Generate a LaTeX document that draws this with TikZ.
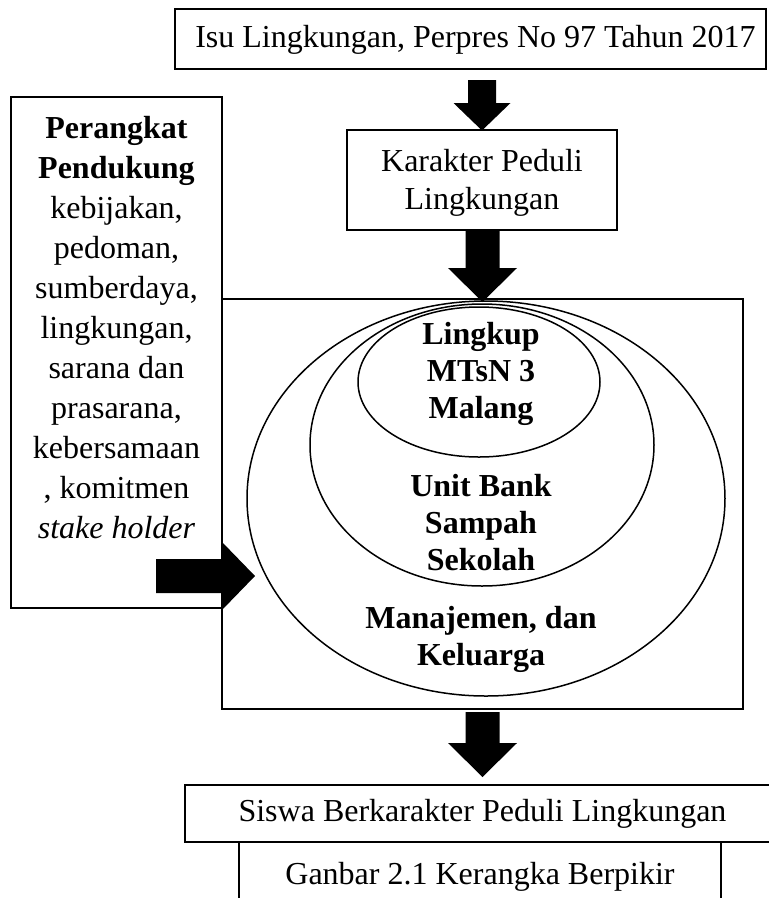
\documentclass[tikz,border=0pt]{standalone}
\usepackage{fontspec}
\setmainfont{Liberation Serif}
\usetikzlibrary{shapes.geometric}
\begin{document}
\begin{tikzpicture}[x=1pt,y=-1pt,
  txt/.style={font=\fontsize{32}{40}\selectfont, align=center, inner sep=0pt},
  btxt/.style={font=\fontsize{32}{37}\selectfont\bfseries, align=center, inner sep=0pt},
  box/.style={draw, line width=1.3pt, inner sep=0pt, font=\fontsize{32}{38}\selectfont, align=center},
  ring/.style={draw, ellipse, line width=1.5pt, inner sep=0pt},
  blk/.style={fill=black}]
\useasboundingbox (0,0) rectangle (769,898);
% boxes
\node[box, minimum width=591, minimum height=60] (top) at (470.5,39) {};
\node[txt] (toptext) at (475.5,40) {Isu Lingkungan, Perpres No 97 Tahun 2017};
\node[box, minimum width=270, minimum height=100] (kar) at (482,180) {};
\node[box, draw=none] (kartext) at (482,183) {Karakter Peduli\\Lingkungan};
\node[box, minimum width=211, minimum height=511] (per) at (116.5,352.5) {};
\node[txt, anchor=north] (pertext) at (116.5,116) {\textbf{Perangkat}\\\textbf{Pendukung}\\kebijakan,\\pedoman,\\sumberdaya,\\lingkungan,\\sarana dan\\prasarana,\\kebersamaan\\, komitmen\\\textit{stake holder}};
\node[box, minimum width=521, minimum height=410] (main) at (482.5,504) {};
% ellipses
\node[ring, minimum width=478, minimum height=395] (outer) at (486,498.5) {};
\node[ring, minimum width=344, minimum height=282] (middle) at (482,445) {};
\node[ring, minimum width=242, minimum height=150] (inner) at (479,382) {};
\node[btxt] (t1) at (481,374) {Lingkup\\MTsN 3\\Malang};
\node[btxt] (t2) at (481,523) {Unit Bank\\Sampah\\Sekolah};
\node[btxt] (t3) at (481,639) {Manajemen, dan\\Keluarga};
% bottom boxes
\node[box, minimum width=595, minimum height=57] (siswa) at (482.5,813.5) {Siswa Berkarakter Peduli Lingkungan};
\node[box, line width=2.2pt, minimum width=482, minimum height=68] (cap) at (480,876) {};
\node[txt] (captext) at (480,877) {Ganbar 2.1 Kerangka Berpikir};
% block arrows
\fill[blk] (468,80) -- (496,80) -- (496,103) -- (510.5,103) -- (482,130.5) -- (453.5,103) -- (468,103) -- cycle;
\fill[blk] (465.5,230) -- (499.5,230) -- (499.5,268) -- (517,268) -- (482.5,302) -- (448,268) -- (465.5,268) -- cycle;
\fill[blk] (465.5,712) -- (499.5,712) -- (499.5,743) -- (517,743) -- (482.5,777) -- (448,743) -- (465.5,743) -- cycle;
\fill[blk] (156,559) -- (222,559) -- (222,542) -- (255,576) -- (222,610) -- (222,593) -- (156,593) -- cycle;
\end{tikzpicture}
\end{document}
